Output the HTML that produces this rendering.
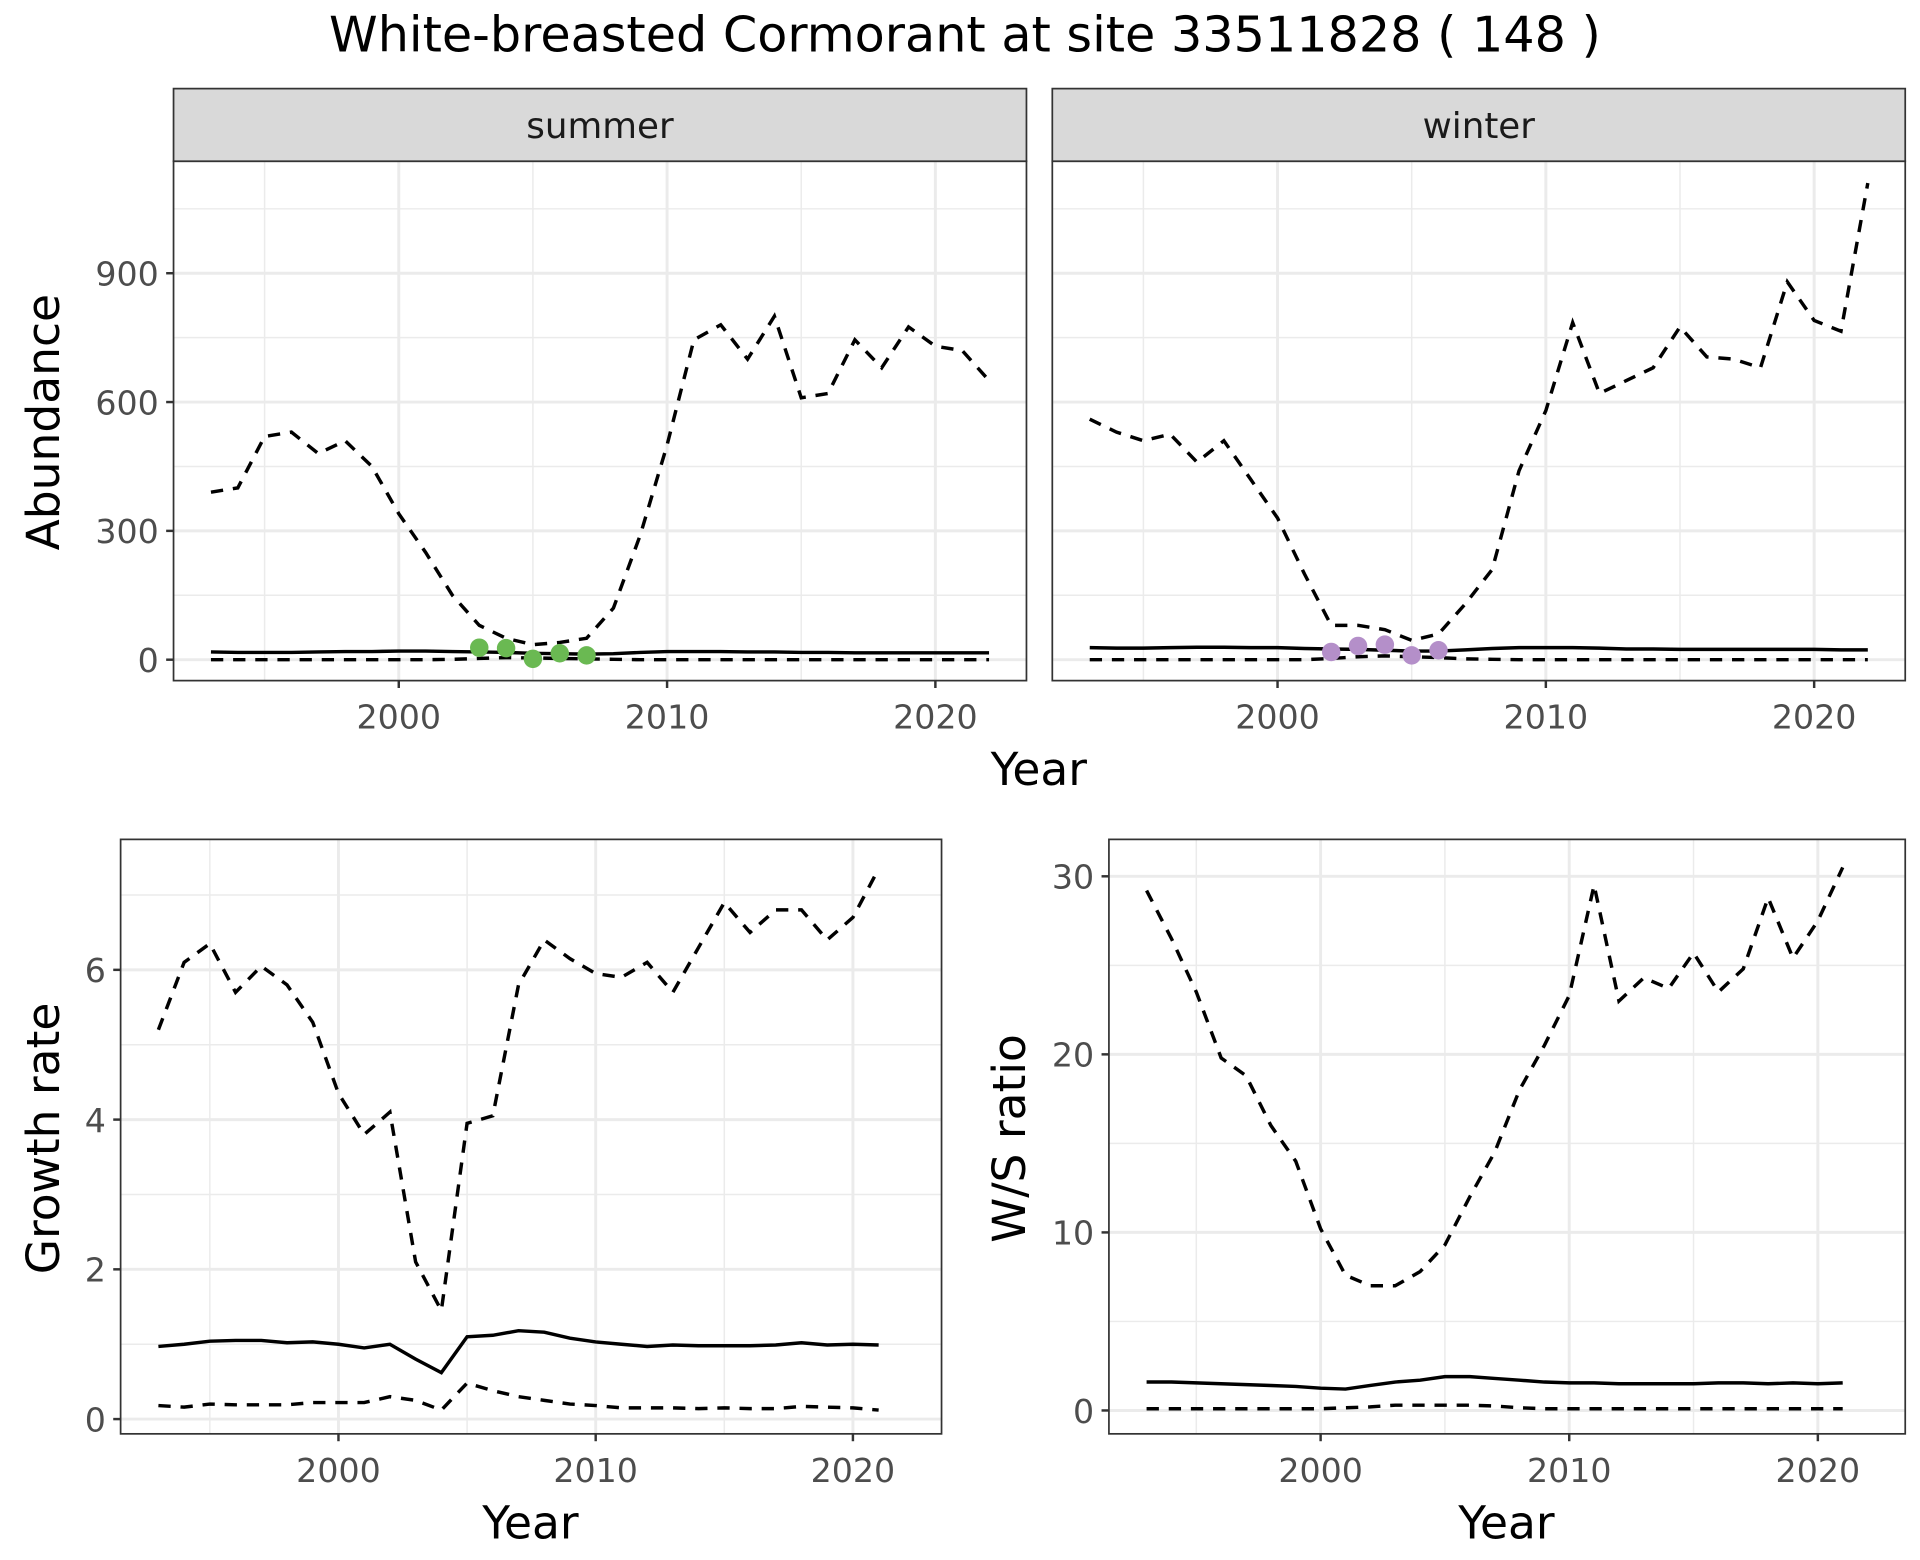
<!DOCTYPE html>
<html><head><meta charset="utf-8"><style>
html,body{margin:0;padding:0;background:#fff;}
svg{display:block;font-family:"DejaVu Sans","Liberation Sans",sans-serif;}
</style></head><body>
<svg id="chart" width="1920" height="1560" viewBox="0 0 1560 1267.5" xmlns="http://www.w3.org/2000/svg">
<text x="784" y="42" font-size="40" text-anchor="middle" fill="#000">White-breasted Cormorant at site 33511828 ( 148 )</text>
</svg>
<script>
const years30 = [1993,1994,1995,1996,1997,1998,1999,2000,2001,2002,2003,2004,2005,2006,2007,2008,2009,2010,2011,2012,2013,2014,2015,2016,2017,2018,2019,2020,2021,2022];
const years29 = years30.slice(0,29);
const summerUpper = [390,400,520,530,480,510,450,340,250,150,80,50,35,40,50,120,290,500,745,780,700,800,610,620,745,680,775,730,720,650];
const summerMid = [18,17,17,17,18,19,19,20,20,19,18,17,15,14,13,14,17,19,19,19,18,18,17,17,16,16,16,16,16,16];
const summerLower = [0,0,0,0,0,0,0,0,0,1,3,5,4,3,2,1,0,0,0,0,0,0,0,0,0,0,0,0,0,0];
const summerPtsYears = [2003,2004,2005,2006,2007];
const summerPts = [28,27,2,15,10];
const winterUpper = [560,530,510,525,460,510,420,330,200,80,80,70,45,60,130,210,440,580,785,620,650,680,775,705,700,680,880,790,765,1110];
const winterMid = [28,27,27,28,29,29,28,28,26,25,24,22,20,20,23,26,28,28,28,27,25,25,24,24,24,24,24,24,23,23];
const winterLower = [0,0,0,0,0,0,0,0,0,3,7,9,7,5,2,1,0,0,0,0,0,0,0,0,0,0,0,0,0,0];
const winterPtsYears = [2002,2003,2004,2005,2006];
const winterPts = [18,32,35,10,22];
const growthUpper = [5.2,6.1,6.35,5.7,6.05,5.8,5.3,4.35,3.8,4.1,2.1,1.45,3.95,4.05,5.8,6.4,6.15,5.95,5.9,6.1,5.7,6.3,6.9,6.5,6.8,6.8,6.4,6.7,7.35];
const growthMid = [0.97,1.0,1.04,1.05,1.05,1.02,1.03,1.0,0.95,1.0,0.8,0.62,1.1,1.12,1.18,1.16,1.08,1.03,1.0,0.97,0.99,0.98,0.98,0.98,0.99,1.02,0.99,1.0,0.99];
const growthLower = [0.18,0.16,0.2,0.19,0.19,0.19,0.22,0.22,0.22,0.3,0.25,0.12,0.48,0.38,0.3,0.25,0.2,0.18,0.15,0.15,0.15,0.14,0.15,0.14,0.14,0.17,0.16,0.15,0.12];
const ratioUpper = [29.2,26.5,23.5,19.8,18.8,16,14,10.2,7.6,7,7,7.8,9.3,12,14.5,18,20.5,23.3,29.5,23,24.3,23.7,25.7,23.5,24.8,28.8,25.4,27.5,30.5];
const ratioMid = [1.6,1.6,1.55,1.5,1.45,1.4,1.35,1.25,1.2,1.4,1.6,1.7,1.9,1.9,1.8,1.7,1.6,1.55,1.55,1.5,1.5,1.5,1.5,1.55,1.55,1.5,1.55,1.5,1.55];
const ratioLower = [0.1,0.1,0.1,0.1,0.1,0.1,0.1,0.1,0.15,0.2,0.3,0.3,0.3,0.3,0.25,0.15,0.1,0.1,0.1,0.1,0.1,0.1,0.1,0.1,0.1,0.1,0.1,0.1,0.1];
const xTicks = [2000,2010,2020];
const abundTicks = [0,300,600,900];
const growthTicks = [0,2,4,6];
const ratioTicks = [0,10,20,30];

const NS = "http://www.w3.org/2000/svg";
const svg = document.getElementById('chart');
function mk(tag, attrs, parent){
  const e = document.createElementNS(NS, tag);
  for (const k in attrs) e.setAttribute(k, attrs[k]);
  (parent||svg).appendChild(e);
  return e;
}
function panel(name, box, xdom, ydom, yTicks, yMinor, showY){
  const g = mk('g', {});
  
  
  const sx = v => box.x0 + (v - xdom[0]) / (xdom[1] - xdom[0]) * (box.x1 - box.x0);
  const sy = v => box.y0 - (v - ydom[0]) / (ydom[1] - ydom[0]) * (box.y0 - box.y1);
  yMinor.forEach(v => mk('line', {x1:box.l, x2:box.r, y1:sy(v), y2:sy(v), stroke:'#ebebeb', 'stroke-width':1.2}, g));
  [1995,2005,2015].forEach(v => mk('line', {x1:sx(v), x2:sx(v), y1:box.t, y2:box.b, stroke:'#ebebeb', 'stroke-width':1.2}, g));
  yTicks.forEach(v => mk('line', {x1:box.l, x2:box.r, y1:sy(v), y2:sy(v), stroke:'#ebebeb', 'stroke-width':2.4}, g));
  xTicks.forEach(v => mk('line', {x1:sx(v), x2:sx(v), y1:box.t, y2:box.b, stroke:'#ebebeb', 'stroke-width':2.4}, g));
  xTicks.forEach(v => {
    mk('line', {x1:sx(v), x2:sx(v), y1:box.b, y2:box.b+6, stroke:'#333', 'stroke-width':2}, g);
    const t = mk('text', {x:sx(v), y:box.b+39, 'font-size':27, 'text-anchor':'middle', fill:'#4d4d4d'}, g);
    t.textContent = v;
    
    
  });
  if (showY) yTicks.forEach(v => {
    mk('line', {x1:box.l-6, x2:box.l, y1:sy(v), y2:sy(v), stroke:'#333', 'stroke-width':2}, g);
    const t = mk('text', {x:box.l-12, y:sy(v)+10, 'font-size':27, 'text-anchor':'end', fill:'#4d4d4d'}, g);
    t.textContent = v;
    
    
  });
  return {g, sx, sy};
}
function line(p, xs, ys, dashed, nm){
  const d = xs.map((x,i) => (i?'L':'M') + p.sx(x).toFixed(1) + ',' + p.sy(ys[i]).toFixed(1)).join('');
  const e = mk('path', {d, fill:'none', stroke:'#000', 'stroke-width':2.8, 'stroke-dasharray': dashed ? '10,8' : 'none'}, p.g);
  
  
}
function pts(p, xs, ys, col, nm){
  xs.forEach((x,i) => {
    const c = mk('circle', {cx:p.sx(x), cy:p.sy(ys[i]), r:7.5, fill:col}, p.g);
    
    
  });
}
function border(box, g){
  mk('rect', {x:box.l, y:box.t, width:box.r-box.l, height:box.b-box.t, fill:'none', stroke:'#333', 'stroke-width':1.4}, g);
}
function strip(box, label, nm){
  const r = mk('rect', {x:box.l, y:72, width:box.r-box.l, height:box.t-72, fill:'#d9d9d9', stroke:'#333', 'stroke-width':1.4});
  
  
  const t = mk('text', {x:(box.l+box.r)/2, y:112, 'font-size':29, 'text-anchor':'middle', fill:'#1a1a1a'});
  t.textContent = label;
}
const bS = {l:141, r:834, t:131, b:553, x0:324, x1:542, y0:536, y1:222};
const pS = panel('summer-panel', bS, [2000,2010], [0,900], abundTicks, [150,450,750,1050], true);
line(pS, years30, summerUpper, true, 'summer-upper-line');
line(pS, years30, summerMid, false, 'summer-mid-line');
line(pS, years30, summerLower, true, 'summer-lower-line');
pts(pS, summerPtsYears, summerPts, '#6ab952', 'summer-point');
border(bS, pS.g); strip(bS, 'summer', 'summer-strip');
const bW = {l:855, r:1548, t:131, b:553, x0:1038, x1:1256, y0:536, y1:222};
const pW = panel('winter-panel', bW, [2000,2010], [0,900], abundTicks, [150,450,750,1050], false);
line(pW, years30, winterUpper, true, 'winter-upper-line');
line(pW, years30, winterMid, false, 'winter-mid-line');
line(pW, years30, winterLower, true, 'winter-lower-line');
pts(pW, winterPtsYears, winterPts, '#b48fc9', 'winter-point');
border(bW, pW.g); strip(bW, 'winter', 'winter-strip');
const bG = {l:98, r:765, t:682, b:1165, x0:275, x1:484, y0:1153, y1:788};
const pG = panel('growth-panel', bG, [2000,2010], [0,6], growthTicks, [1,3,5,7], true);
line(pG, years29, growthUpper, true, 'growth-upper-line');
line(pG, years29, growthMid, false, 'growth-mid-line');
line(pG, years29, growthLower, true, 'growth-lower-line');
border(bG, pG.g);
const bR = {l:901, r:1548, t:682, b:1165, x0:1073, x1:1275, y0:1146, y1:712};
const pR = panel('ratio-panel', bR, [2000,2010], [0,30], ratioTicks, [5,15,25], true);
line(pR, years29, ratioUpper, true, 'ratio-upper-line');
line(pR, years29, ratioMid, false, 'ratio-mid-line');
line(pR, years29, ratioLower, true, 'ratio-lower-line');
border(bR, pR.g);
</script>
<svg style="position:absolute;left:0;top:0" width="1920" height="1560" viewBox="0 0 1560 1267.5" xmlns="http://www.w3.org/2000/svg" font-family="DejaVu Sans, Liberation Sans, sans-serif">
<text x="844" y="638" font-size="37" text-anchor="middle">Year</text>
<text transform="translate(48,343) rotate(-90)" font-size="37" text-anchor="middle">Abundance</text>
<text x="431" y="1250" font-size="37" text-anchor="middle">Year</text>
<text transform="translate(48,925) rotate(-90)" font-size="37" text-anchor="middle">Growth rate</text>
<text x="1224" y="1250" font-size="37" text-anchor="middle">Year</text>
<text transform="translate(833,925) rotate(-90)" font-size="37" text-anchor="middle">W/S ratio</text>
</svg>
</body></html>
